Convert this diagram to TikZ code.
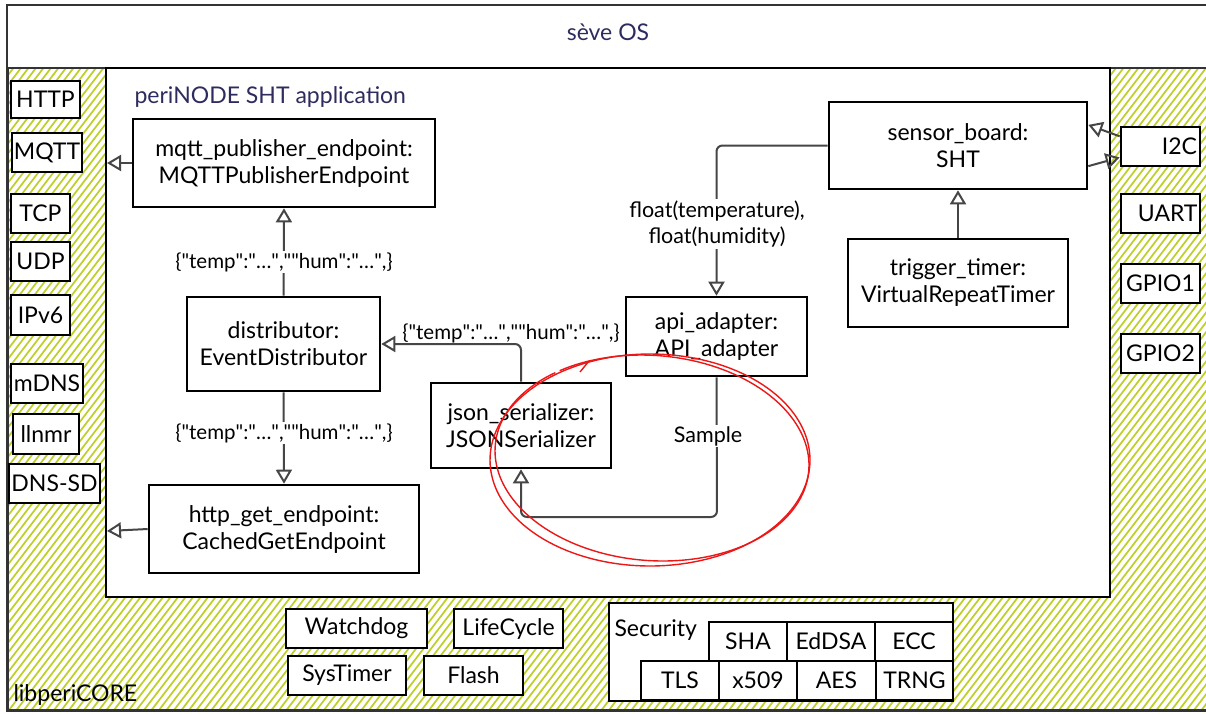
\documentclass[tikz,border=0pt]{standalone}
\usepackage{fontspec}
\setmainfont{Lato}
\usetikzlibrary{arrows.meta}

\definecolor{hatchgreen}{RGB}{192,206,40}
\definecolor{titlenavy}{RGB}{46,44,94}
\definecolor{connector}{RGB}{70,70,70}
\definecolor{markred}{RGB}{236,24,24}

\newcommand\boxfont{\fontsize{23}{27}\selectfont}
\newcommand\labelfont{\fontsize{21.5}{26}\selectfont}
\newcommand\jsonfont{\fontsize{20.5}{24}\selectfont}
\newcommand\dq{\textquotedbl}
\newcommand\payload{\{\dq temp\dq:\dq…\dq,\dq\dq hum\dq:\dq…\dq,\}}

% a box given by its corners (x1,y1) and (x2,y2)
\newcommand\cornerbox[7][]{%
  \node[unit, #1, minimum width={#5-#3}, minimum height={#6-#4}]
    (#2) at ({(#3+#5)/2},{(#4+#6)/2}) {#7};}

\begin{document}
\begin{tikzpicture}[x=1pt,y=-1pt,
  unit/.style={draw=black, line width=2.6pt, fill=white, inner sep=0pt,
    align=center, font=\boxfont},
  frame/.style={draw=black!80, line width=2pt},
  hatchline/.style={draw=hatchgreen, line width=1.7pt},
  flow/.style={draw=connector, line width=2pt, rounded corners=6pt,
    -{Triangle[open, length=14pt, width=16pt]}},
  flowlabel/.style={fill=white, inner sep=1.5pt, align=center,
    font=\labelfont, text=black},
  jsonlabel/.style={flowlabel, font=\jsonfont},
  marker/.style={draw=markred, line width=1.4pt}]

\useasboundingbox (0,0) rectangle (1206,713);
\fill[white] (0,0) rectangle (1206,713);

% libperiCORE area with hatching
\begin{scope}
  \clip (8,68) rectangle (1206,710);
  \foreach \i in {-66,...,162}
    \draw[hatchline] ({\i*7.5},712) -- ({\i*7.5+495},66);
\end{scope}
\draw[frame] (8,68) rectangle (1215,710);
\draw[frame] (7,5) rectangle (1215,711);
\node[font=\boxfont, text=titlenavy] (os) at (608,32) {sève OS};
\node[font=\boxfont, anchor=base west] (core) at (10,701) {libperiCORE};

% application area
\draw[draw=black, line width=2pt, fill=white] (106,68) rectangle (1110,597);
\node[font=\boxfont, text=titlenavy, anchor=base west] (app) at (131,103)
  {periNODE SHT application};

% network stack
\cornerbox{http}{11}{81}{80}{118}{HTTP}
\cornerbox{mqttp}{12}{133}{82}{172}{MQTT}
\cornerbox{tcp}{11}{194}{70}{233}{TCP}
\cornerbox{udp}{11}{242}{70}{281}{UDP}
\cornerbox{ipv6}{11}{295}{70}{335}{IPv6}
\cornerbox{mdns}{11}{364}{83}{403}{mDNS}
\cornerbox{llnmr}{13}{414}{79}{454}{llnmr}
\cornerbox{dnssd}{9}{464}{100}{503}{DNS-SD}

% peripherals
\cornerbox[text width=73pt, align=right]{i2c}{1121}{127}{1200}{166}{I2C}
\cornerbox[text width=74pt, align=right]{uart}{1121}{194}{1200}{233}{UART}
\cornerbox{gpioa}{1121}{264}{1200}{303}{GPIO1}
\cornerbox{gpiob}{1121}{334}{1200}{373}{GPIO2}

% core services
\cornerbox{wdog}{286}{609}{427}{648}{Watchdog}
\cornerbox{life}{454}{609}{563}{648}{LifeCycle}
\cornerbox{systimer}{288}{656}{406}{695}{SysTimer}
\cornerbox{flash}{424}{656}{523}{695}{Flash}

% security block
\cornerbox{sec}{609}{603}{953}{701}{}
\node[font=\boxfont, anchor=west] (sectitle) at (611,630) {Security};
\cornerbox{sha}{709}{622}{787}{661}{SHA}
\cornerbox{eddsa}{787}{622}{875}{661}{EdDSA}
\cornerbox{ecc}{875}{622}{953}{661}{ECC}
\cornerbox{tls}{641}{661}{719}{700}{TLS}
\cornerbox{xfive}{719}{661}{797}{700}{x509}
\cornerbox{aes}{797}{661}{876}{700}{AES}
\cornerbox{trng}{876}{661}{953}{700}{TRNG}

% application components
\cornerbox{mqtt}{133}{119}{435}{207}{mqtt\_publisher\_endpoint:\\MQTTPublisherEndpoint}
\cornerbox{dist}{187}{297}{380}{391}{distributor:\\EventDistributor}
\cornerbox{httpget}{149}{485}{419}{573}{http\_get\_endpoint:\\CachedGetEndpoint}
\cornerbox{json}{431}{383}{611}{468}{json\_serializer:\\JSONSerializer}
\cornerbox{api}{626}{297}{807}{376}{api\_adapter:\\API\_adapter}
\cornerbox{sensor}{829}{102}{1087}{189}{sensor\_board:\\SHT}
\cornerbox{trig}{848}{239}{1068}{327}{trigger\_timer:\\VirtualRepeatTimer}

% data flow
\coordinate (mqttout) at (107,163);
\coordinate (httpout) at (107,531);
\coordinate (sampleturn) at (717,517);

\draw[flow] (mqtt.west) -- (mqttout);
\draw[flow] (httpget.west) -- (httpout);
\draw[flow] (dist.north) -- (mqtt.south);
\node[jsonlabel] (lblup) at (284,262) {\payload};
\draw[flow] (dist.south) -- (httpget.north);
\node[jsonlabel] (lbldown) at (284,433) {\payload};
\draw[flow] (json.north) |- (dist.east);
\node[jsonlabel, fill=none, anchor=south] (lbljson) at (511,345) {\payload};
\draw[flow] (sensor.west) -| (api.north);
\node[flowlabel] (lblfloat) at (717,224) {float(temperature),\\float(humidity)};
\draw[flow] (api.south) -- (sampleturn) -| (json.south);
\node[flowlabel] (lblsample) at (708,436) {Sample};
\draw[flow] (trig.north) -- (sensor.south);
\draw[flow] (i2c.166) -- (sensor.9);
\draw[flow] (sensor.-9) -- (i2c.195);

% hand-drawn red ring
\draw[marker] plot[domain=128:-242, samples=90, smooth]
  ({650+160*cos(\x)}, {460-106*sin(\x)});
\draw[marker] plot[domain=122:-236, samples=90, smooth]
  ({652+157*cos(\x+4)}, {458-103*sin(\x)});
\draw[marker] (580,372) -- (589,361);
\end{tikzpicture}
\end{document}
